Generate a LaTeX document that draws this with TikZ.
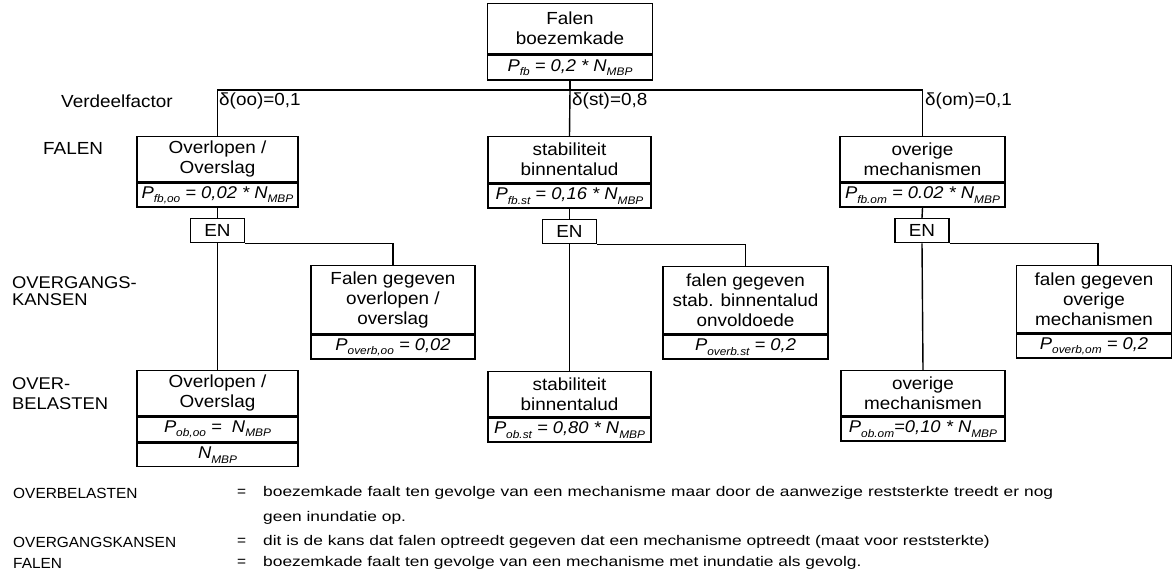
\documentclass[tikz,border=0pt]{standalone}
\usepackage{fontspec}
\setmainfont{Liberation Sans}
\newfontfamily\boxfont[FakeStretch=1.08]{Liberation Sans}
\newfontfamily\legfont[FakeStretch=1.05]{Liberation Sans}
\newfontfamily\descfont[FakeStretch=1.24]{Liberation Sans}
\newcommand\lowsub[1]{\raisebox{-0.5ex}{\fontsize{11}{11}\selectfont #1}}
\newcommand\bxfont{\boxfont\fontsize{17.5}{20}\selectfont}
\newcommand\fxfont{\boxfont\itshape\fontsize{17}{18}\selectfont}
\newcommand\legtext{\legfont\fontsize{14.7}{16}\selectfont}
\newcommand\desctext{\descfont\fontsize{14}{16}\selectfont}
\begin{document}
\begin{tikzpicture}[x=1pt,y=-1pt,
  box/.style={draw, line width=1.4pt, align=center, inner sep=0pt, font=\bxfont, anchor=north},
  form/.style={box, font=\fxfont},
  conn/.style={line width=1.4pt},
  side/.style={font=\bxfont, anchor=west, align=left, inner sep=0pt},
  leg/.style={font=\legtext, anchor=west, inner sep=0pt},
  desc/.style={font=\desctext, anchor=west, inner sep=0pt}]
\useasboundingbox (0,0) rectangle (1173,574);

% top
\node[box, minimum width=165pt, minimum height=50pt] (top) at (570,3) {Falen\\boezemkade};
\node[form, minimum width=165pt, minimum height=25pt] (topP) at (top.south) {P\lowsub{fb} = 0,2 * N\lowsub{MBP}};

% FALEN level
\node[box, minimum width=161pt, minimum height=45pt] (fL) at (217.5,136) {Overlopen /\\Overslag};
\node[form, minimum width=161pt, minimum height=24pt] (fLP) at (fL.south) {P\lowsub{fb,oo} = 0,02 * N\lowsub{MBP}};
\node[box, minimum width=163pt, minimum height=46pt] (fM) at (569.5,136) {stabiliteit\\binnentalud};
\node[form, minimum width=163pt, minimum height=24pt] (fMP) at (fM.south) {P\lowsub{fb.st} = 0,16 * N\lowsub{MBP}};
\node[box, minimum width=165pt, minimum height=45pt] (fR) at (922.5,136) {overige\\mechanismen};
\node[form, minimum width=165pt, minimum height=24pt] (fRP) at (fR.south) {P\lowsub{fb.om} = 0.02 * N\lowsub{MBP}};

% EN gates
\node[box, minimum width=54pt, minimum height=24pt] (enL) at (217.5,218) {EN};
\node[box, minimum width=54pt, minimum height=24pt] (enM) at (569.5,219) {EN};
\node[box, minimum width=54pt, minimum height=24pt] (enR) at (922,218) {EN};

% OVERGANGSKANSEN level
\node[box, minimum width=164pt, minimum height=68pt] (tL) at (393,265) {Falen gegeven\\overlopen /\\overslag};
\node[form, minimum width=164pt, minimum height=24pt] (tLP) at (tL.south) {P\lowsub{overb,oo} = 0,02};
\node[box, minimum width=165pt, minimum height=67pt] (tM) at (745.5,266) {falen gegeven\\stab. binnentalud\\onvoldoede};
\node[form, minimum width=165pt, minimum height=24pt] (tMP) at (tM.south) {P\lowsub{overb.st} = 0,2};
\node[box, minimum width=155pt, minimum height=67pt] (tR) at (1094,265) {falen gegeven\\overige\\mechanismen};
\node[form, minimum width=155pt, minimum height=24pt] (tRP) at (tR.south) {P\lowsub{overb,om} = 0,2};

% OVERBELASTEN level
\node[box, minimum width=161pt, minimum height=45pt] (oL) at (217.5,370) {Overlopen /\\Overslag};
\node[form, minimum width=161pt, minimum height=25pt] (oLP) at (oL.south) {P\lowsub{ob,oo} = \ N\lowsub{MBP}};
\node[form, minimum width=161pt, minimum height=23pt] (oLN) at (oLP.south) {N\lowsub{MBP}};
\node[box, minimum width=163pt, minimum height=45pt] (oM) at (569.5,371) {stabiliteit\\binnentalud};
\node[form, minimum width=163pt, minimum height=24pt] (oMP) at (oM.south) {P\lowsub{ob.st} = 0,80 * N\lowsub{MBP}};
\node[box, minimum width=164pt, minimum height=45pt] (oR) at (923,370) {overige\\mechanismen};
\node[form, minimum width=164pt, minimum height=24pt] (oRP) at (oR.south) {P\lowsub{ob.om}=0,10 * N\lowsub{MBP}};

% connectors
\coordinate (split) at (570,90);
\draw[conn] (topP.south) -- (split);
\draw[conn] (fL.north) -- (fL.north |- split) -- (fR.north |- split) -- (fR.north);
\draw[conn] (split) -- (fM.north);
\foreach \a/\b/\c in {fLP/enL/oL, fMP/enM/oM, fRP/enR/oR} {
  \draw[conn] (\a.south) -- (\b.north);
  \draw[conn] (\b.south) -- (\c.north);
}
\draw[conn] (enL.south east) -| (tL.north);
\draw[conn] (enM.south east) -| (tM.north);
\draw[conn] (enR.south east) -| ([xshift=4pt]tR.north);

% distribution factors
\node[side] (vf) at (61,101) {Verdeelfactor};
\node[side] (doo) at (219,101) {δ(oo)=0,1};
\node[side] (dst) at (572,101) {δ(st)=0,8};
\node[side] (dom) at (925,101) {δ(om)=0,1};

% level labels
\node[side] (lf) at (43,148) {FALEN};
\node[side, font=\boxfont\fontsize{17}{16.5}\selectfont] (lo) at (12,291) {OVERGANGS-\\KANSEN};
\node[side, font=\boxfont\fontsize{17}{20.5}\selectfont] (lb) at (12,393.5) {OVER-\\BELASTEN};

% legend
\node[leg] (k1) at (13,493) {OVERBELASTEN};
\node[leg] (e1) at (237,493) {=};
\node[desc] (d1) at (263,493) {\makebox[790pt][s]{boezemkade faalt ten gevolge van een mechanisme maar door de aanwezige reststerkte treedt er nog}};
\node[desc] (d1b) at (263,518) {geen inundatie op.};
\node[leg] (k2) at (13,542) {OVERGANGSKANSEN};
\node[leg] (e2) at (237,542) {=};
\node[desc] (d2) at (263,542) {dit is de kans dat falen optreedt gegeven dat een mechanisme optreedt (maat voor reststerkte)};
\node[leg] (k3) at (13,563) {FALEN};
\node[leg] (e3) at (237,563) {=};
\node[desc] (d3) at (263,563) {boezemkade faalt ten gevolge van een mechanisme met inundatie als gevolg.};
\end{tikzpicture}
\end{document}
